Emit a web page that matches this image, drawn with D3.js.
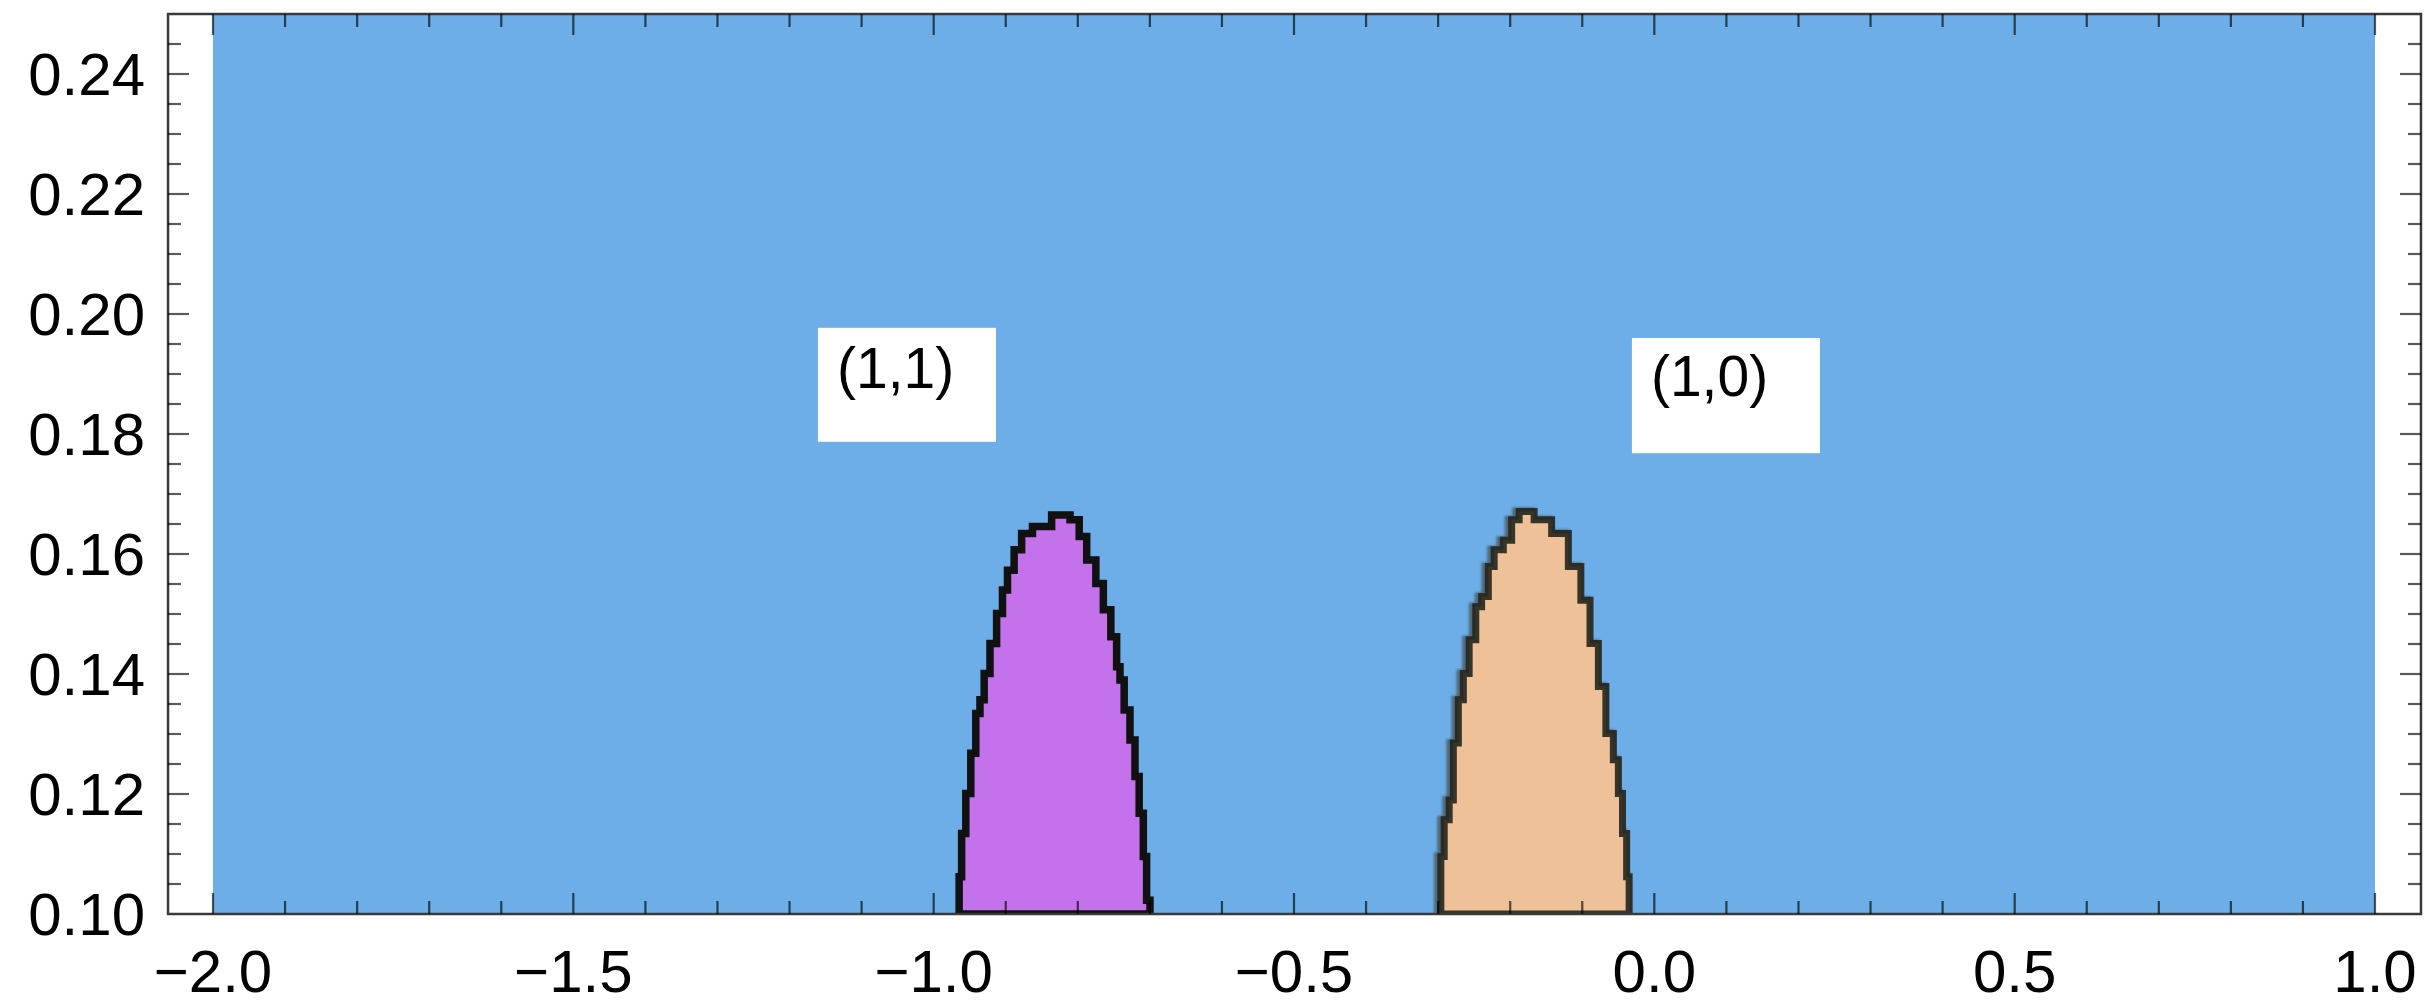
<!DOCTYPE html>
<html>
<head>
<meta charset="utf-8">
<script src="https://cdn.jsdelivr.net/npm/d3@7"></script>
<style>
  html, body { margin: 0; padding: 0; background: #fff; }
  svg { display: block; }
  text { font-family: "Liberation Sans", Arial, Helvetica, sans-serif; fill: #000; }
</style>
</head>
<body>
<svg id="chart" width="2427" height="1007"></svg>
<script>
// ---------------- data ----------------
const xDomain = [-2.0, 1.0];          // coloured plot range
const yDomain = [0.10, 0.25];
const xFrameDomain = [-2.0624, 1.0638]; // frame incl. padding
const xMajorTicks = [-2.0, -1.5, -1.0, -0.5, 0.0, 0.5, 1.0];
const yMajorTicks = [0.10, 0.12, 0.14, 0.16, 0.18, 0.20, 0.22, 0.24];
const xMinorStep = 0.1;
const yMinorStep = 0.005;

// boundary of region (1,1): left edge bottom->top, then right edge top->bottom
const region11 = [
  [-0.9658,0.100],[-0.9635,0.1062],[-0.9589,0.1134],[-0.9519,0.1201],[-0.9450,0.1268],
  [-0.9381,0.1334],[-0.9334,0.1357],[-0.9264,0.1401],[-0.9173,0.1451],[-0.9080,0.1501],
  [-0.9010,0.1540],[-0.8941,0.1573],[-0.8826,0.1607],[-0.8733,0.1634],[-0.8525,0.1646],
  [-0.8201,0.1665],
  [-0.8015,0.1657],[-0.7946,0.1629],[-0.7807,0.1590],[-0.7692,0.1551],[-0.7599,0.1507],
  [-0.7484,0.1462],[-0.7438,0.1412],[-0.7391,0.1390],[-0.7322,0.1340],[-0.7230,0.1290],
  [-0.7183,0.1229],[-0.7114,0.1168],[-0.7068,0.1096],[-0.7022,0.1023],[-0.6975,0.100]
];
// boundary of region (1,0)
const region10 = [
  [-0.2974,0.100],[-0.2951,0.1096],[-0.2881,0.1157],[-0.2812,0.1190],[-0.2766,0.1285],
  [-0.2673,0.1357],[-0.2627,0.1401],[-0.2512,0.1457],[-0.2443,0.1512],[-0.2350,0.1529],
  [-0.2257,0.1579],[-0.2188,0.1607],[-0.2003,0.1623],[-0.1957,0.1657],[-0.1795,0.1671],
  [-0.1541,0.1657],[-0.1309,0.1634],[-0.1077,0.1579],[-0.0962,0.1523],[-0.0823,0.1451],
  [-0.0730,0.1379],[-0.0615,0.1301],[-0.0522,0.1257],[-0.0476,0.1201],[-0.0407,0.1134],
  [-0.0361,0.1062],[-0.0338,0.100]
];
// labels: text, text anchor (x,y baseline), box [x0,x1,y0,y1]
const labelTexts = ["(1,1)", "(1,0)"];
const labelPos = [[-1.1342, 0.1877], [-0.0047, 0.1863]];
const labelBoxes = [[-1.1606, -0.9135, 0.1787, 0.1977], [-0.0311, 0.2298, 0.1768, 0.1960]];

// ---------------- drawing ----------------
const svg = d3.select("#chart");
const x = d3.scaleLinear().domain(xDomain).range([213, 2375]);
const y = d3.scaleLinear().domain(yDomain).range([914, 14]);

const x0 = x(xFrameDomain[0]), x1 = x(xFrameDomain[1]);
const yT = y(yDomain[1]), yB = y(yDomain[0]);

const defs = svg.append("defs");
defs.append("filter").attr("id", "soft")
  .attr("x", "-10%").attr("y", "-10%").attr("width", "120%").attr("height", "120%")
  .append("feGaussianBlur").attr("stdDeviation", 1.2);

// background region (blue)
svg.append("rect")
  .attr("x", x(xDomain[0])).attr("y", yT)
  .attr("width", x(xDomain[1]) - x(xDomain[0]))
  .attr("height", yB - yT)
  .attr("fill", "#6daee8");

const line = d3.line().x(d => x(d[0])).y(d => y(d[1])).curve(d3.curveStep);

svg.append("path")
  .attr("d", line(region11) + "Z")
  .attr("fill", "#c472ec")
  .attr("stroke", "#111").attr("stroke-width", 7.5).attr("stroke-linejoin", "miter");

// soft shadow edge for (1,0)
svg.append("path")
  .attr("d", line(region10) + "Z")
  .attr("transform", "translate(-3,0)")
  .attr("fill", "none")
  .attr("stroke", "#3a3a30").attr("stroke-width", 8).attr("stroke-opacity", 0.6)
  .attr("filter", "url(#soft)");
svg.append("path")
  .attr("d", line(region10) + "Z")
  .attr("fill", "#eec198")
  .attr("stroke", "#25251c").attr("stroke-width", 7).attr("stroke-opacity", 0.9)
  .attr("stroke-linejoin", "miter");

// white area below plot to hide stroke bottoms
svg.append("rect").attr("x", 0).attr("y", yB).attr("width", 2427).attr("height", 1007 - yB).attr("fill", "#fff");

// label boxes
labelTexts.forEach((t, i) => {
  const b = labelBoxes[i];
  svg.append("rect")
    .attr("x", x(b[0])).attr("y", y(b[3]))
    .attr("width", x(b[1]) - x(b[0])).attr("height", y(b[2]) - y(b[3]))
    .attr("fill", "#fff");
  svg.append("text")
    .attr("x", x(labelPos[i][0])).attr("y", y(labelPos[i][1]))
    .attr("font-size", 57)
    .text(t);
});

// frame
svg.append("rect")
  .attr("x", x0).attr("y", yT).attr("width", x1 - x0).attr("height", yB - yT)
  .attr("fill", "none").attr("stroke", "#3a3a3a").attr("stroke-width", 2.5);

// ticks
const tickG = svg.append("g").attr("stroke", "#000").attr("stroke-opacity", 0.65).attr("stroke-width", 2.2);
const xMinor = d3.range(xDomain[0], xDomain[1] + 1e-9, xMinorStep).map(v => +v.toFixed(3));
const yMinor = d3.range(yDomain[0], yDomain[1] - 1e-9, yMinorStep).map(v => +v.toFixed(4));
const isMajor = (v, arr) => arr.some(m => Math.abs(m - v) < 1e-6);

xMinor.forEach(v => {
  const len = isMajor(v, xMajorTicks) ? 21 : 13;
  tickG.append("line").attr("x1", x(v)).attr("x2", x(v)).attr("y1", yB).attr("y2", yB - len);
  tickG.append("line").attr("x1", x(v)).attr("x2", x(v)).attr("y1", yT).attr("y2", yT + len);
});
yMinor.forEach(v => {
  if (v <= yDomain[0] + 1e-9) return;
  const len = isMajor(v, yMajorTicks) ? 21 : 13;
  tickG.append("line").attr("x1", x0).attr("x2", x0 + len).attr("y1", y(v)).attr("y2", y(v));
  tickG.append("line").attr("x1", x1).attr("x2", x1 - len).attr("y1", y(v)).attr("y2", y(v));
});

// tick labels
const fx = d3.format(".1f"), fy = d3.format(".2f");
svg.append("g").selectAll("text").data(xMajorTicks).join("text")
  .attr("x", d => x(d)).attr("y", 992)
  .attr("text-anchor", "middle").attr("font-size", 60)
  .text(d => fx(d));
svg.append("g").selectAll("text").data(yMajorTicks).join("text")
  .attr("x", 145).attr("y", d => y(d)).attr("dy", "0.35em")
  .attr("text-anchor", "end").attr("font-size", 60)
  .text(d => fy(d));
</script>
</body>
</html>
